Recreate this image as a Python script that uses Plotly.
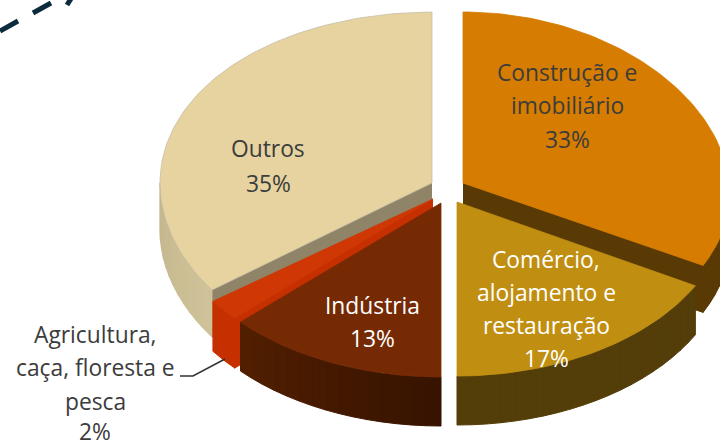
import math
import plotly.graph_objects as go

# --- data ---
categories = ["Construção e imobiliário", "Comércio, alojamento e restauração", "Indústria",
              "Agricultura, caça, floresta e pesca", "Outros"]
values = [33, 17, 13, 2, 35]
label_lines = [
    ["Construção e", "imobiliário", "33%"],
    ["Comércio,", "alojamento e", "restauração", "17%"],
    ["Indústria", "13%"],
    ["Agricultura,", "caça, floresta e", "pesca", "2%"],
    ["Outros", "35%"],
]

# --- styles / layout (pixel frame of the 720x440 page) ---
top_colors = ["#d67c00", "#c08f12", "#762a04", "#cf3704", "#e6d3a0"]
top_edges = ["#d67c00", "#c08f12", "#762a04", "#cf3704", "#c4bca2"]
cut_colors = ["#5a3a04", "#533d08", "#4a1c00", "#c63000", "#8f8468"]
side_from = ["#5a3a04", "#533d08", "#361300", "#c63000", "#cfc299"]
side_to = ["#5a3a04", "#533d08", "#521f00", "#c63000", "#c4b68c"]
centers = [(463, 183), (457, 202), (441, 203), (433, 199), (432, 183)]
radii = [(266, 171), (272, 174), (275, 174), (272, 174), (272, 178)]
perspective = [0.062, 0, 0, 0, 0]
y_stretch = [0, 0, 0, 0, 0.04]
depths = [47, 49, 49, 50, 47]
draw_order = [4, 0, 3, 1, 2]
label_x = [567, 546, 372, 95, 268]
label_y = [[72, 105, 139], [259, 292, 325, 358], [305, 338], [334, 367, 401, 431], [148, 183]]
label_colors = ["#3c3c3c", "#ffffff", "#ffffff", "#3c3c3c", "#3c3c3c"]
FONT = "Open Sans"
FONT_SIZE = 22.8


def pt(i, deg):
    cx, cy = centers[i]
    rx, ry = radii[i]
    a = math.radians(deg)
    dy = -math.cos(a)
    return (cx + rx * math.sin(a) * (1 + perspective[i] * dy),
            cy + ry * dy * (1 + y_stretch[i] * dy))


def mix(c0, c1, t):
    v0 = [int(c0[k:k + 2], 16) for k in (1, 3, 5)]
    v1 = [int(c1[k:k + 2], 16) for k in (1, 3, 5)]
    return "rgb(%d,%d,%d)" % tuple(round(a + (b - a) * t) for a, b in zip(v0, v1))


fig = go.Figure()


def poly(xs, ys, color, name, edge=None, width=1):
    fig.add_trace(go.Scatter(x=xs, y=ys, mode="lines", fill="toself", fillcolor=color,
                             line=dict(color=edge or color, width=width), name=name,
                             hoverinfo="name", showlegend=False))


total = sum(values)
starts = []
acc = 0.0
for v in values:
    starts.append(acc)
    acc += v / total * 360

for i in draw_order:
    a0 = starts[i]
    a1 = a0 + values[i] / total * 360
    d = depths[i]
    name = categories[i]
    cx, cy = centers[i]
    # cut faces visible from the front
    for edge in (a0, a1):
        ex, ey = pt(i, edge)
        if (i == 0 and edge == a1) or (i == 4 and edge == a0) or (i == 3 and edge == a0):
            poly([cx, ex, ex, cx], [cy, ey, ey + d, cy + d], cut_colors[i], name)
    # outer wall: only the part facing the viewer
    w0, w1 = max(a0, 90), min(a1, 270)
    if w1 > w0:
        n = max(2, int((w1 - w0) / 3))
        for k in range(n):
            s0 = w0 + (w1 - w0) * k / n
            s1 = w0 + (w1 - w0) * (k + 1) / n
            mids = [s0 + (s1 - s0) * j / 3 for j in range(4)]
            xs = [pt(i, m)[0] for m in mids]
            ys = [pt(i, m)[1] for m in mids]
            t = (k + 0.5) / n
            poly(xs + xs[::-1] + xs[:1], ys + [y + d for y in ys[::-1]] + ys[:1],
                 mix(side_from[i], side_to[i], t), name)
    # top face
    m = max(8, int((a1 - a0) / 1.5))
    arc = [pt(i, a0 + (a1 - a0) * j / m) for j in range(m + 1)]
    poly([cx] + [p[0] for p in arc] + [cx], [cy] + [p[1] for p in arc] + [cy],
         top_colors[i], name, edge=top_edges[i], width=0.8)

annotations = []
for i, lines in enumerate(label_lines):
    for text, y in zip(lines, label_y[i]):
        annotations.append(dict(x=label_x[i], y=y, text=text, showarrow=False, xanchor="center",
                                yanchor="middle", font=dict(family=FONT, size=FONT_SIZE, color=label_colors[i])))

shapes = [
    dict(type="path", path="M 180 376 L 193 376 L 225 359", line=dict(color="#333333", width=1.5)),
    dict(type="line", x0=0, y0=31, x1=18, y1=21, line=dict(color="#0d2b3e", width=5)),
    dict(type="line", x0=33, y0=13, x1=51, y1=3, line=dict(color="#0d2b3e", width=5)),
    dict(type="line", x0=67, y0=5, x1=72, y1=-3, line=dict(color="#0d2b3e", width=5)),
]

fig.update_layout(
    width=720, height=440, margin=dict(l=0, r=0, t=0, b=0),
    paper_bgcolor="white", plot_bgcolor="white", showlegend=False,
    xaxis=dict(range=[0, 720], visible=False, fixedrange=True),
    yaxis=dict(range=[440, 0], visible=False, fixedrange=True),
    annotations=annotations, shapes=shapes,
)
fig.write_html("out.html", config=dict(displayModeBar=False),
               post_script="document.body.style.margin='0';document.body.style.overflow='hidden';")
